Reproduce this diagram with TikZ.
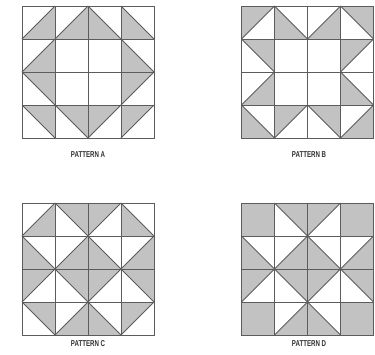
\documentclass[tikz,border=0pt]{standalone}
\usepackage{fontspec}
\setmainfont{Liberation Sans}
\definecolor{qfill}{HTML}{C2C2C2}
\definecolor{qline}{HTML}{5C5C5C}
\definecolor{qtext}{HTML}{303030}
\tikzset{
  qdiag/.style={draw=qline, line width=0.65pt},
  qgrid/.style={draw=qline, line width=0.75pt},
  qlab/.style={font=\bfseries\fontsize{6.4}{7}\selectfont, text=qtext, inner sep=0pt},
}
\newcommand\qpattern[3]{%
  \begin{scope}[shift={(#1,#2)}, x=24.75pt, y=-24.75pt]
    \foreach \t [count=\i from 0] in {#3} {
      \pgfmathtruncatemacro\cc{mod(\i,4)}
      \pgfmathtruncatemacro\rr{div(\i,4)}
      \ifcase\t
      \or
        \fill[qfill] (\cc,\rr+1) -- (\cc+1,\rr) -- (\cc+1,\rr+1) -- cycle;
        \draw[qdiag] (\cc,\rr+1) -- (\cc+1,\rr);
      \or
        \fill[qfill] (\cc,\rr+1) -- (\cc,\rr) -- (\cc+1,\rr) -- cycle;
        \draw[qdiag] (\cc,\rr+1) -- (\cc+1,\rr);
      \or
        \fill[qfill] (\cc,\rr) -- (\cc,\rr+1) -- (\cc+1,\rr+1) -- cycle;
        \draw[qdiag] (\cc,\rr) -- (\cc+1,\rr+1);
      \or
        \fill[qfill] (\cc,\rr) -- (\cc+1,\rr) -- (\cc+1,\rr+1) -- cycle;
        \draw[qdiag] (\cc,\rr) -- (\cc+1,\rr+1);
      \or
        \fill[qfill] (\cc,\rr) rectangle (\cc+1,\rr+1);
      \fi
    }
    \foreach \k in {1,2,3} {
      \draw[qgrid] (\k,0) -- (\k,4);
      \draw[qgrid] (0,\k) -- (4,\k);
    }
    \draw[qgrid] (0,0) rectangle (4,4);
  \end{scope}}
\begin{document}
\begin{tikzpicture}[x=0.75pt, y=-0.75pt]
  \useasboundingbox (0,0) rectangle (375,354);
  \qpattern{22}{6}{1,1,3,3, 1,0,0,3, 4,0,0,2, 4,4,2,2}
  \qpattern{241.5}{6}{2,3,1,4, 4,0,0,2, 1,0,0,3, 3,2,4,1}
  \qpattern{22}{203}{1,4,2,3, 3,1,3,1, 2,4,2,4, 4,1,3,2}
  \qpattern{241.5}{203}{5,4,2,5, 3,1,3,1, 2,4,2,4, 5,1,3,5}
  \node[qlab] (la) at (88,155) {\scalebox{0.72}[1]{PATTERN A}};
  \node[qlab] (lb) at (309,155) {\scalebox{0.72}[1]{PATTERN B}};
  \node[qlab] (lc) at (88,344) {\scalebox{0.72}[1]{PATTERN C}};
  \node[qlab] (ld) at (309,344) {\scalebox{0.72}[1]{PATTERN D}};
\end{tikzpicture}
\end{document}
